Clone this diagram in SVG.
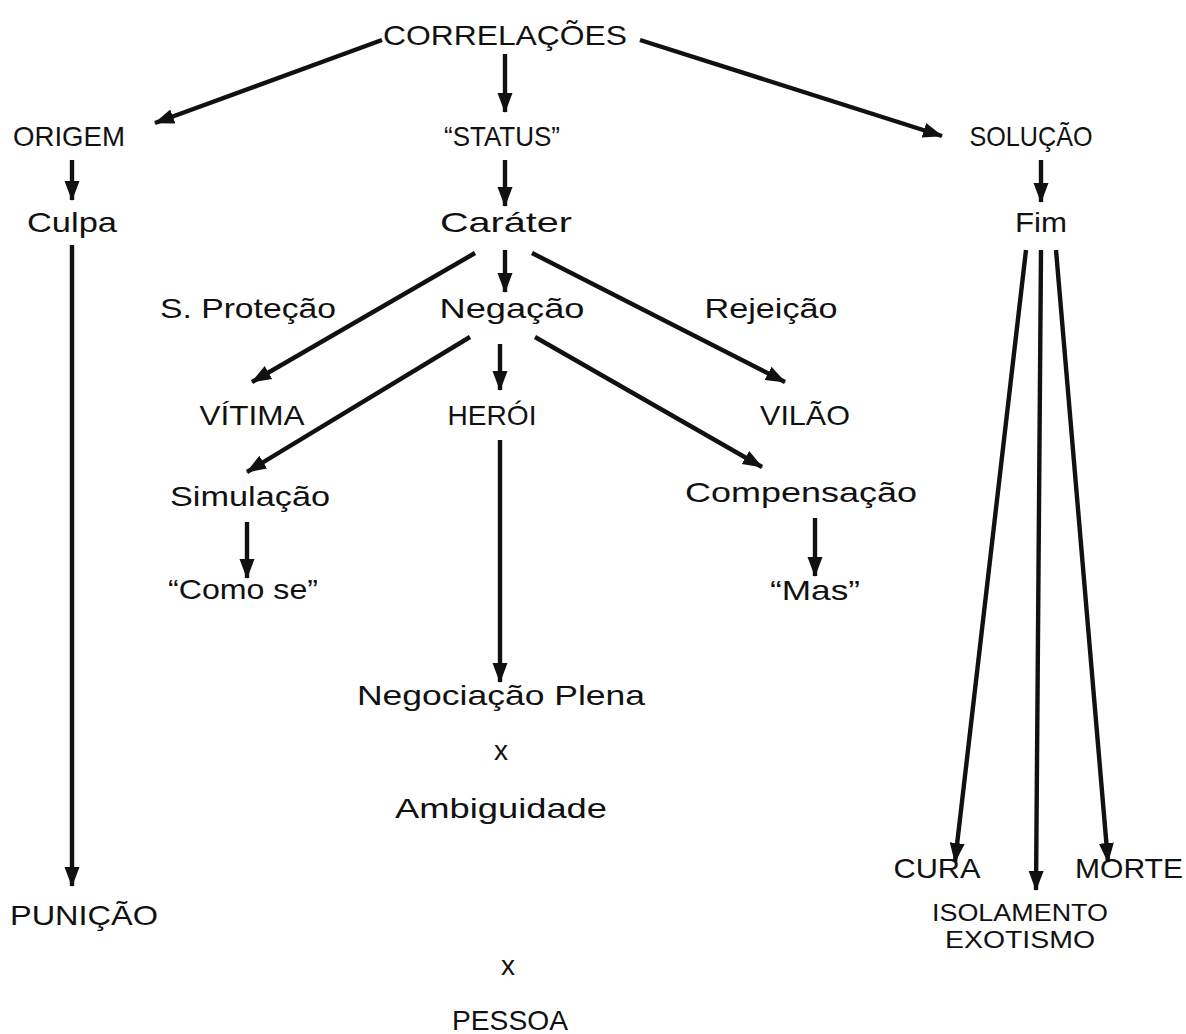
<svg xmlns="http://www.w3.org/2000/svg" width="1186" height="1034" viewBox="0 0 1186 1034">
<style>
text{font-family:"Liberation Sans",Arial,sans-serif;font-size:28px;fill:#111;text-anchor:middle}
.small{font-size:24px}
.c line{stroke:#111;stroke-width:4.4;marker-end:url(#ah)}
</style>
<defs>
<marker id="ah" markerUnits="userSpaceOnUse" markerWidth="22" markerHeight="18" refX="19" refY="9" orient="auto">
<path d="M0,1.5 L20,9 L0,16.5 Z" fill="#111"/>
</marker>
</defs>
<rect width="1186" height="1034" fill="#fff"/>
<g class="c" id="connectors">
<line x1="382" y1="40" x2="155" y2="123"/>
<line x1="505" y1="54" x2="505" y2="112"/>
<line x1="640" y1="40" x2="942" y2="136"/>
<line x1="72" y1="160" x2="72" y2="200"/>
<line x1="505" y1="160" x2="505" y2="206"/>
<line x1="1041" y1="160" x2="1041" y2="202"/>
<line x1="72" y1="245" x2="72" y2="886"/>
<line x1="475" y1="253" x2="252" y2="382"/>
<line x1="505" y1="250" x2="505" y2="292"/>
<line x1="532" y1="253" x2="785" y2="382"/>
<line x1="470" y1="337" x2="247" y2="472"/>
<line x1="500" y1="344" x2="500" y2="390"/>
<line x1="535" y1="337" x2="762" y2="467"/>
<line x1="500" y1="440" x2="500" y2="682"/>
<line x1="247" y1="522" x2="247" y2="578"/>
<line x1="815" y1="518" x2="815" y2="576"/>
<line x1="1026" y1="250" x2="955" y2="862"/>
<line x1="1041" y1="250" x2="1036" y2="890"/>
<line x1="1056" y1="250" x2="1108" y2="862"/>
</g>
<g id="n-correlacoes"><text x="505" y="45" textLength="244" lengthAdjust="spacingAndGlyphs">CORRELAÇÕES</text></g>
<g id="n-origem"><text x="69" y="146" textLength="112" lengthAdjust="spacingAndGlyphs">ORIGEM</text></g>
<g id="n-status"><text x="502" y="146" textLength="116" lengthAdjust="spacingAndGlyphs">“STATUS”</text></g>
<g id="n-solucao"><text x="1031" y="146" textLength="123" lengthAdjust="spacingAndGlyphs">SOLUÇÃO</text></g>
<g id="n-culpa"><text x="72" y="232" textLength="90" lengthAdjust="spacingAndGlyphs">Culpa</text></g>
<g id="n-carater"><text x="506" y="232" textLength="132" lengthAdjust="spacingAndGlyphs">Caráter</text></g>
<g id="n-fim"><text x="1041" y="232" textLength="52" lengthAdjust="spacingAndGlyphs">Fim</text></g>
<g id="n-sprotecao"><text x="248" y="318" textLength="176" lengthAdjust="spacingAndGlyphs">S. Proteção</text></g>
<g id="n-negacao"><text x="512" y="318" textLength="145" lengthAdjust="spacingAndGlyphs">Negação</text></g>
<g id="n-rejeicao"><text x="771" y="318" textLength="133" lengthAdjust="spacingAndGlyphs">Rejeição</text></g>
<g id="n-vitima"><text x="252" y="425" textLength="105" lengthAdjust="spacingAndGlyphs">VÍTIMA</text></g>
<g id="n-heroi"><text x="492" y="425" textLength="89" lengthAdjust="spacingAndGlyphs">HERÓI</text></g>
<g id="n-vilao"><text x="805" y="425" textLength="90" lengthAdjust="spacingAndGlyphs">VILÃO</text></g>
<g id="n-simulacao"><text x="250" y="506" textLength="160" lengthAdjust="spacingAndGlyphs">Simulação</text></g>
<g id="n-compensacao"><text x="801" y="502" textLength="232" lengthAdjust="spacingAndGlyphs">Compensação</text></g>
<g id="n-comose"><text x="243" y="599" textLength="150" lengthAdjust="spacingAndGlyphs">“Como se”</text></g>
<g id="n-mas"><text x="815" y="600" textLength="90" lengthAdjust="spacingAndGlyphs">“Mas”</text></g>
<g id="n-negociacao"><text x="501" y="705" textLength="288" lengthAdjust="spacingAndGlyphs">Negociação Plena</text></g>
<g id="n-x1"><text x="501" y="760">x</text></g>
<g id="n-ambiguidade"><text x="501" y="818" textLength="212" lengthAdjust="spacingAndGlyphs">Ambiguidade</text></g>
<g id="n-cura"><text x="937" y="878" textLength="87" lengthAdjust="spacingAndGlyphs">CURA</text></g>
<g id="n-morte"><text x="1129" y="878" textLength="108" lengthAdjust="spacingAndGlyphs">MORTE</text></g>
<g id="n-isolamento"><text class="small" x="1020" y="921" textLength="176" lengthAdjust="spacingAndGlyphs">ISOLAMENTO</text><text class="small" x="1020" y="948" textLength="150" lengthAdjust="spacingAndGlyphs">EXOTISMO</text></g>
<g id="n-punicao"><text x="84" y="925" textLength="148" lengthAdjust="spacingAndGlyphs">PUNIÇÃO</text></g>
<g id="n-x2"><text x="508" y="975">x</text></g>
<g id="n-pessoa"><text x="510" y="1030" textLength="116" lengthAdjust="spacingAndGlyphs">PESSOA</text></g>
</svg>
